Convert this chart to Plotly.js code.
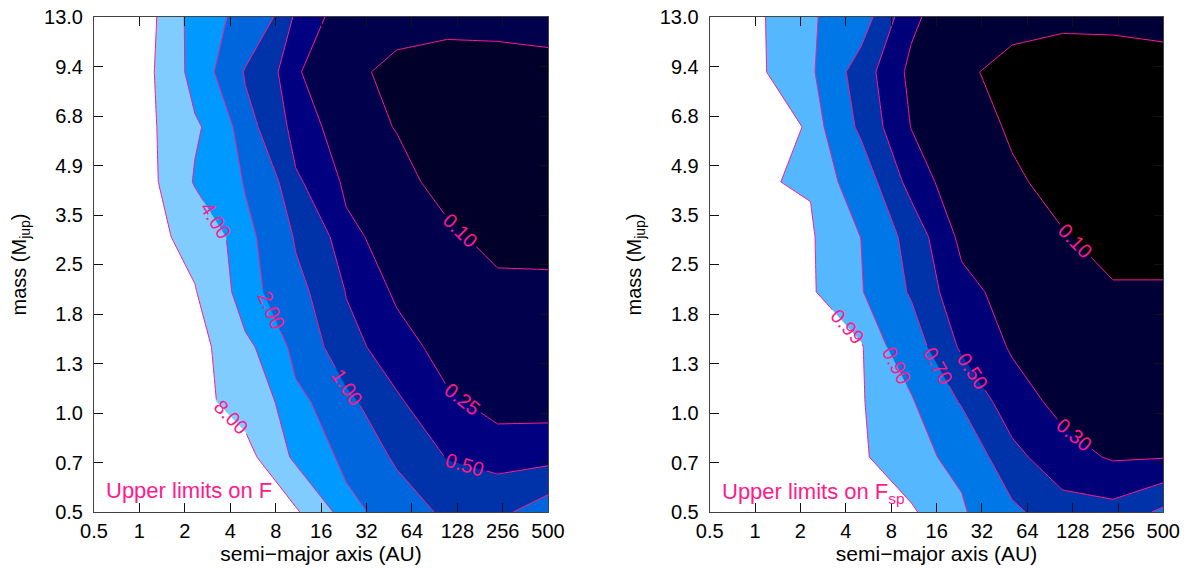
<!DOCTYPE html>
<html><head><meta charset="utf-8">
<script src="https://cdn.plot.ly/plotly-3.0.1.min.js"></script>
<style>html,body{margin:0;padding:0;background:#fff}#chart{width:1185px;height:570px}</style>
</head><body><div id="chart"></div>
<script>
// grid of the detection-limit maps
const semiMajor = [0.5, 1.077, 2.32, 5.0, 10.77, 23.2, 50.0, 107.7, 232, 500];
const mass = [0.50, 0.718, 1.031, 1.481, 2.128, 3.056, 4.39, 6.305, 9.056, 13.0];

// upper limits on F, rows = mass (low to high), columns = semi-major axis
const upperF = [
  [15, 15, 14, 12, 8.48, 2.42, 1.40, 0.86, 0.865, 1.30],
  [15, 14, 12, 9.41, 3.26, 1.645, 0.886, 0.48, 0.336, 0.348],
  [15, 12, 9.24, 6.35, 2.37, 1.145, 0.542, 0.282, 0.193, 0.19],
  [15, 12, 9.67, 4.6, 1.5, 0.609, 0.343, 0.168, 0.16, 0.16],
  [15, 12, 8.22, 2.44, 1.19, 0.486, 0.212, 0.16, 0.128, 0.126],
  [14, 9.4, 6.76, 2.31, 0.925, 0.30, 0.165, 0.123, 0.064, 0.062],
  [14, 9.63, 3.70, 1.9, 0.55, 0.208, 0.14, 0.057, 0.05, 0.05],
  [14, 9.16, 4.43, 1.22, 0.354, 0.154, 0.095, 0.06, 0.055, 0.06],
  [14, 9.3, 2.67, 0.93, 0.268, 0.11, 0.09, 0.071, 0.075, 0.088],
  [14, 9.8, 2.45, 1.74, 0.42, 0.126, 0.115, 0.12, 0.12, 0.115]
];

// upper limits on F_sp
const upperFsp = [
  [1.0, 1.0, 1.0, 1.0, 1.0, 0.92, 0.74, 0.586, 0.566, 0.74],
  [1.0, 1.0, 1.0, 1.0, 0.94, 0.863, 0.561, 0.371, 0.28, 0.29],
  [1.0, 1.0, 1.0, 0.9965, 0.916, 0.684, 0.387, 0.247, 0.2, 0.2],
  [1.0, 1.0, 1.0, 0.999, 0.808, 0.47, 0.279, 0.19, 0.16, 0.16],
  [1.0, 1.0, 1.0, 0.912, 0.679, 0.36, 0.23, 0.16, 0.109, 0.109],
  [1.0, 1.0, 0.999, 0.899, 0.63, 0.251, 0.16, 0.107, 0.068, 0.068],
  [1.0, 0.9935, 0.985, 0.83, 0.43, 0.153, 0.117, 0.065, 0.045, 0.045],
  [1.0, 1.0, 0.988, 0.662, 0.294, 0.16, 0.085, 0.05, 0.045, 0.05],
  [1.0, 0.999, 0.929, 0.606, 0.25, 0.108, 0.0856, 0.053, 0.059, 0.082],
  [1.0, 0.999, 0.916, 0.812, 0.347, 0.123, 0.115, 0.12, 0.12, 0.115]
];

const levelsF = [0.10, 0.25, 0.50, 1.00, 2.00, 4.00, 8.00];
const levelsFsp = [0.10, 0.30, 0.50, 0.70, 0.90, 0.99];

const xTickVals = [0.5, 0.998, 1.99, 3.98, 7.94, 15.85, 31.6, 63.1, 125.9, 251.2, 500];
const xTickText = ['0.5', '1', '2', '4', '8', '16', '32', '64', '128', '256', '500'];
const yTickVals = [0.5, 0.692, 0.959, 1.328, 1.839, 2.55, 3.53, 4.89, 6.77, 9.38, 13.0];
const yTickText = ['0.5', '0.7', '1.0', '1.3', '1.8', '2.5', '3.5', '4.9', '6.8', '9.4', '13.0'];

// styles
const magenta = '#ff1a8c';
const font = 'Liberation Sans, Arial, Helvetica, sans-serif';
const fillsF = ['#00004d', '#000080', '#0033aa', '#0066dd', '#0099ff', '#80ccff', '#ffffff'];
const fillsFsp = ['#000036', '#000078', '#0033aa', '#0077e6', '#55b8ff', '#ffffff'];

// each band: the region above a level gets its colour ('<' shades where z exceeds the value)
function bands(z, levels, fills, xa, ya) {
  return levels.map((L, k) => ({
    type: 'contour', x: semiMajor, y: mass, z: z, xaxis: xa, yaxis: ya,
    autocontour: false,
    contours: {
      type: 'constraint', operation: '<', value: L,
      showlabels: true, labelformat: '.2f',
      labelfont: {family: font, size: 20, color: magenta}
    },
    line: {color: magenta, width: 1, smoothing: 0},
    fillcolor: fills[k],
    showscale: false, hoverinfo: 'skip'
  }));
}

const data = bands(upperF, levelsF, fillsF, 'x', 'y')
  .concat(bands(upperFsp, levelsFsp, fillsFsp, 'x2', 'y2'));

const axisBase = {
  type: 'log', showline: true, linecolor: '#444', linewidth: 1, mirror: 'ticks',
  ticks: 'inside', ticklen: 9, tickcolor: '#111', tickwidth: 1,
  showgrid: false, zeroline: false, tickmode: 'array',
  tickfont: {family: font, size: 20, color: '#000'}
};
const xBase = Object.assign({}, axisBase, {
  range: [Math.log10(0.5), Math.log10(500)], tickvals: xTickVals, ticktext: xTickText,
  ticklabelstandoff: 1,
  title: {text: 'semi\u2212major axis (AU)', font: {family: font, size: 21, color: '#000'}, standoff: 2}
});
const yBase = Object.assign({}, axisBase, {
  range: [Math.log10(0.5), Math.log10(13)], tickvals: yTickVals, ticktext: yTickText,
  ticklabelstandoff: 6,
  domain: [1 - 512 / 570, 1 - 17 / 570],
  title: {text: 'mass (M<sub>jup</sub>)', font: {family: font, size: 20, color: '#000'}, standoff: 12}
});

const layout = {
  width: 1185, height: 570,
  margin: {l: 0, r: 0, t: 0, b: 0},
  paper_bgcolor: '#ffffff', plot_bgcolor: '#ffffff',
  showlegend: false,
  xaxis: Object.assign({}, xBase, {domain: [94 / 1185, 548 / 1185], anchor: 'y'}),
  yaxis: Object.assign({}, yBase, {anchor: 'x'}),
  xaxis2: Object.assign({}, xBase, {domain: [709.7 / 1185, 1163.3 / 1185], anchor: 'y2'}),
  yaxis2: Object.assign({}, yBase, {anchor: 'x2'}),
  shapes: [
    {type: 'rect', xref: 'x domain', yref: 'y domain', x0: 0, x1: 1, y0: 0, y1: 1,
     fillcolor: '#00002a', line: {width: 0}, layer: 'below'},
    {type: 'rect', xref: 'x2 domain', yref: 'y2 domain', x0: 0, x1: 1, y0: 0, y1: 1,
     fillcolor: '#000000', line: {width: 0}, layer: 'below'}
  ],
  annotations: [
    {text: 'Upper limits on F', xref: 'x domain', yref: 'y domain', x: 0.022, y: 0.015,
     xanchor: 'left', yanchor: 'bottom', showarrow: false,
     font: {family: font, size: 22, color: magenta}},
    {text: 'Upper limits on F<sub>sp</sub>', xref: 'x2 domain', yref: 'y2 domain', x: 0.022, y: 0.006,
     xanchor: 'left', yanchor: 'bottom', showarrow: false,
     font: {family: font, size: 22, color: magenta}}
  ]
};

Plotly.newPlot('chart', data, layout, {displayModeBar: false, staticPlot: true});
</script>
</body></html>
